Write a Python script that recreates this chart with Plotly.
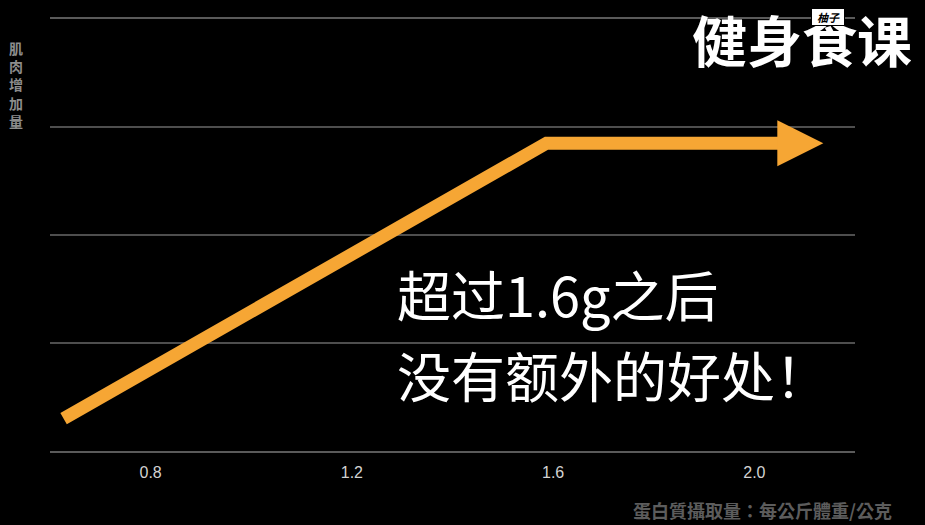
import plotly.graph_objects as go

# protein intake (g per kg body weight) vs. muscle gain
protein = [0.627, 1.587, 2.06]
muscle = [0.30, 2.85, 2.85]
tip_x = [2.137]
tip_y = [2.85]

x_ticks = [0.8, 1.2, 1.6, 2.0]
x_ticklabels = ['0.8', '1.2', '1.6', '2.0']
y_grid = [1, 2, 3]

orange = '#F6A634'
cjk = 'Noto Sans CJK SC'
cjk_tc = 'Noto Sans CJK TC'

fig = go.Figure()

fig.add_trace(go.Scatter(
    x=protein, y=muscle, mode='lines',
    line=dict(color=orange, width=13),
    hoverinfo='skip', showlegend=False,
))
fig.add_trace(go.Scatter(
    x=tip_x, y=tip_y, mode='markers',
    marker=dict(symbol='arrow-right', size=46, color=orange, line=dict(width=0)),
    hoverinfo='skip', showlegend=False,
))

fig.update_layout(
    width=925, height=525,
    paper_bgcolor='black', plot_bgcolor='black',
    margin=dict(l=50, r=70, t=19, b=74),
    xaxis=dict(
        range=[0.6, 2.2], tickvals=x_ticks, ticktext=x_ticklabels,
        showgrid=False, zeroline=False, ticks='',
        showline=True, mirror=True, linecolor='#5a5a5a', linewidth=2,
        tickfont=dict(family='Liberation Sans', size=16, color='#d2d2d2'),
        ticklabelstandoff=6,
    ),
    yaxis=dict(
        range=[0, 4], tickvals=y_grid, showticklabels=False,
        showgrid=True, gridcolor='#4e4e4e', gridwidth=2,
        zeroline=False, showline=False, ticks='',
    ),
    font=dict(family=cjk),
)

y_title = '肌肉增加量'

annotations = [
    # y axis title, stacked one character per row
    dict(xref='paper', yref='paper', x=-0.042, y=0.848, xanchor='center', yanchor='middle',
         text='<br>'.join(y_title), showarrow=False,
         font=dict(family=cjk_tc, size=14, color='#8c8c8c', weight='bold')),
    # x axis title
    dict(xref='paper', yref='paper', x=1.048, y=-0.137, xanchor='right', yanchor='middle',
         text='蛋白質攝取量：每公斤體重/公克', showarrow=False,
         font=dict(family=cjk_tc, size=18, color='#5c5c5c', weight='bold')),
    # main message
    dict(xref='paper', yref='paper', x=0.428, y=0.365, xanchor='left', yanchor='middle',
         text='超过1.6g之后', showarrow=False,
         font=dict(family=cjk, size=54, color='white')),
    dict(xref='paper', yref='paper', x=0.428, y=0.177, xanchor='left', yanchor='middle',
         text='没有额外的好处！', showarrow=False,
         font=dict(family=cjk, size=54, color='white')),
    # logo
    dict(xref='paper', yref='paper', x=1.073, y=0.956, xanchor='right', yanchor='middle',
         text='健身食课', showarrow=False,
         font=dict(family=cjk, size=55, color='white', weight='bold')),
    dict(xref='paper', yref='paper', x=0.966, y=1.004, xanchor='center', yanchor='middle',
         text='\u00a0\u00a0<i>柚子</i>\u00a0\u00a0', showarrow=False,
         bgcolor='white', bordercolor='black', borderwidth=1, borderpad=0,
         font=dict(family=cjk, size=11, color='black', weight='bold')),
]
fig.update_layout(annotations=annotations)

fig.write_html('out.html', config={'displayModeBar': False},
               post_script="document.body.style.margin='0';document.body.style.background='black';")
